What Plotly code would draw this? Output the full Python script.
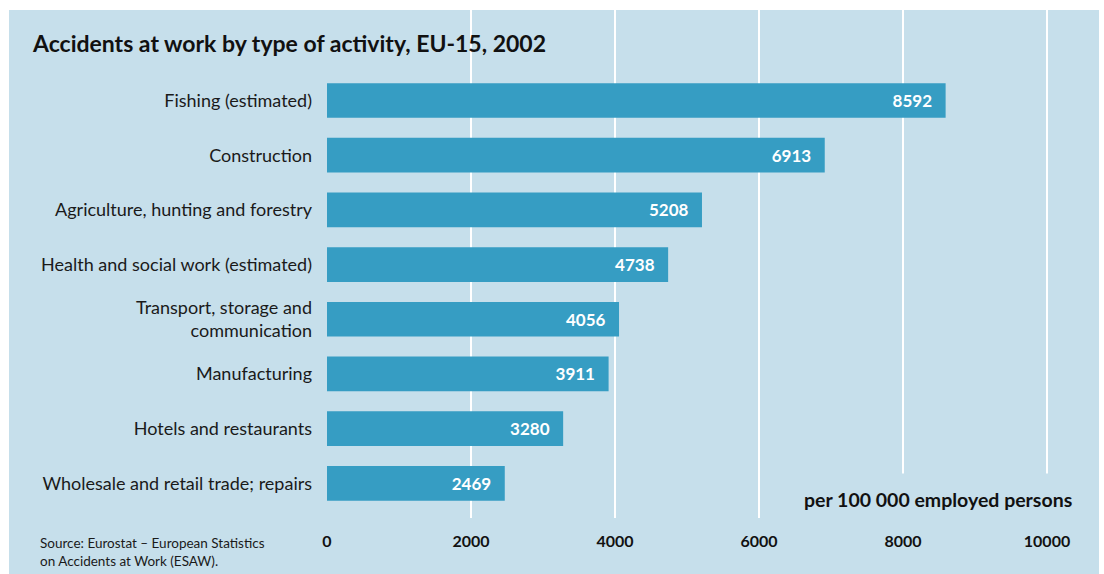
import plotly.graph_objects as go

categories = [
    "Fishing (estimated)",
    "Construction",
    "Agriculture, hunting and forestry",
    "Health and social work (estimated)",
    "Transport, storage and<br>communication",
    "Manufacturing",
    "Hotels and restaurants",
    "Wholesale and retail trade; repairs",
]
values = [8592, 6913, 5208, 4738, 4056, 3911, 3280, 2469]
x_ticks = [0, 2000, 4000, 6000, 8000, 10000]

BG = "#c6dfeb"
BAR = "#369dc3"
FONT = "Lato"

W, H = 1104, 574
L, R, T, B = 327, 21, 10, 56
pw, ph = W - L - R, H - T - B

def px2x(p):
    return (p - L) / pw

def py2y(p):
    return (H - B - p) / ph

fig = go.Figure(
    go.Bar(
        y=categories[::-1],
        x=values[::-1],
        orientation="h",
        marker=dict(color=BAR, line=dict(width=0)),
        text=[str(v) + "\u2002\u2009" for v in values[::-1]],
        textposition="inside",
        insidetextanchor="end",
        textfont=dict(family=FONT, size=17, color="white", weight="bold"),
        hoverinfo="skip",
    )
)

fig.update_layout(
    width=W,
    height=H,
    margin=dict(l=L, r=R, t=T, b=B, pad=0),
    paper_bgcolor="white",
    plot_bgcolor=BG,
    bargap=0.366,
    showlegend=False,
    font=dict(family=FONT, color="#1a1a1a"),
    title=dict(
        text="<b>Accidents at work by type of activity, EU-15, 2002</b>",
        x=33 / W,
        xanchor="left",
        xref="container",
        y=1 - 44 / H,
        yanchor="middle",
        yref="container",
        font=dict(family=FONT, size=23, color="#111111"),
    ),
    xaxis=dict(
        range=[0, 10500],
        tickvals=x_ticks,
        ticktext=[str(t) for t in x_ticks],
        showgrid=True,
        gridcolor="white",
        gridwidth=2,
        zeroline=False,
        showline=False,
        ticks="",
        ticklabelstandoff=12,
        tickfont=dict(family=FONT, size=16, color="#111111", weight="bold"),
        fixedrange=True,
    ),
    yaxis=dict(
        type="category",
        range=[-0.634, 8.655],
        showgrid=False,
        zeroline=False,
        showline=False,
        ticks="",
        ticklabelstandoff=14,
        tickfont=dict(family=FONT, size=18, color="#1a1a1a"),
        fixedrange=True,
    ),
    shapes=[
        dict(
            type="rect",
            xref="paper",
            yref="paper",
            x0=px2x(9),
            x1=px2x(1099),
            y0=py2y(574),
            y1=py2y(10),
            fillcolor=BG,
            line=dict(width=0),
            layer="below",
        )
    ],
    annotations=[
        dict(
            text="<b>per 100 000 employed persons</b>",
            xref="paper",
            yref="paper",
            x=px2x(1072 + 15),
            y=py2y(499),
            xanchor="right",
            yanchor="middle",
            showarrow=False,
            bgcolor=BG,
            borderpad=14,
            font=dict(family=FONT, size=19.5, color="#111111"),
        ),
        dict(
            text="Source: Eurostat – European Statistics<br>on Accidents at Work (ESAW).",
            xref="paper",
            yref="paper",
            x=px2x(39 - 1),
            y=py2y(552),
            xanchor="left",
            yanchor="middle",
            align="left",
            showarrow=False,
            font=dict(family=FONT, size=13.5, color="#1a1a1a"),
        ),
    ],
)

fig.write_html(
    "out.html",
    config={"displayModeBar": False},
    post_script="document.body.style.margin='0px';",
)
